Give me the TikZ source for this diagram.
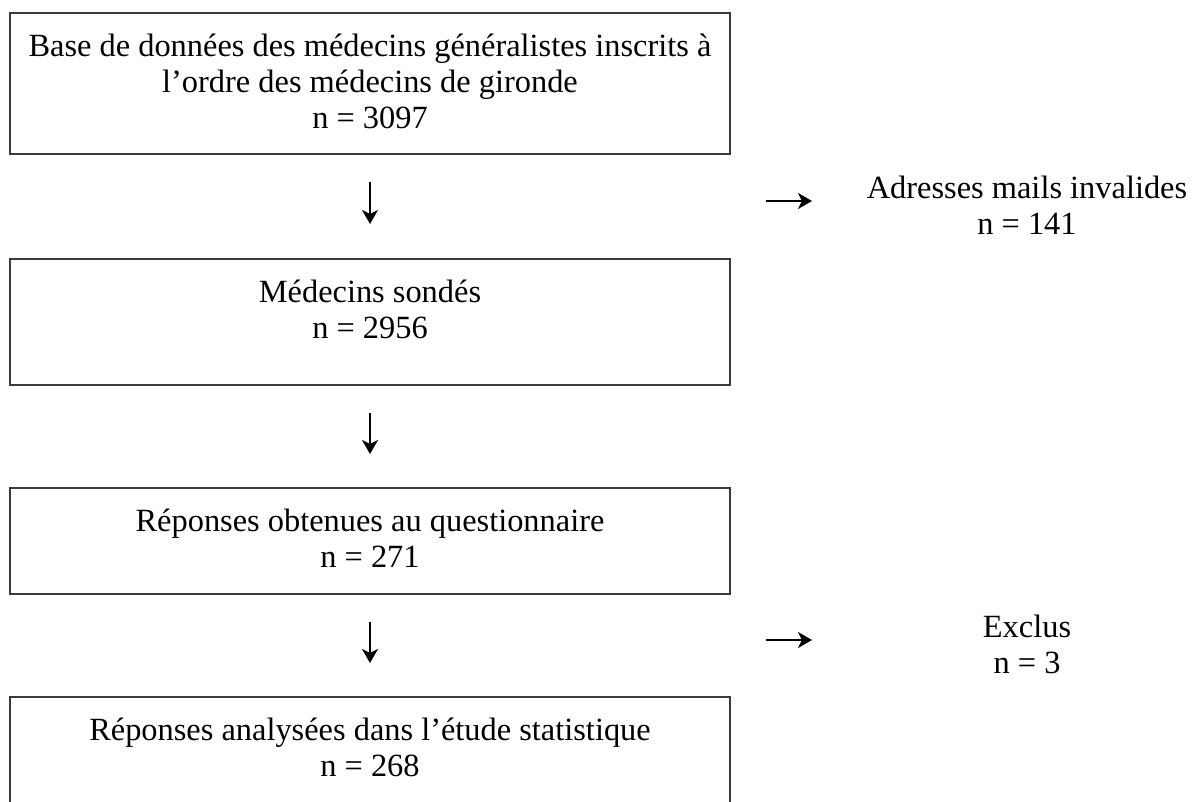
\documentclass[tikz,border=0pt]{standalone}
\usepackage{fontspec}
\setmainfont{Liberation Serif}
\usetikzlibrary{arrows.meta,positioning}
\definecolor{CadreGris}{HTML}{3A3A3A}

\begin{document}
\begin{tikzpicture}[x=1pt,y=-1pt,
  cadre/.style={draw=CadreGris,line width=1.6pt,minimum width=720pt,anchor=north,inner sep=0pt},
  texte/.style={align=center,anchor=north,inner sep=0pt,font=\fontsize{32.4}{36}\selectfont},
  fleche/.style={line width=2.2pt,-{Stealth[length=14pt,width=16pt,inset=4pt]}}]
  \useasboundingbox (0,0) rectangle (1196,802);
  % cadres de gauche
  \foreach \nom/\haut/\h in {base/12/141,sondes/258/126,reponses/487/106,analyses/696/140}
    \node[cadre,minimum height=\h pt] (\nom) at (370,\haut) {};
  \node[texte] (base-txt) at ([yshift=-22pt]base.north)
    {Base de données des médecins généralistes inscrits à\\l’ordre des médecins de gironde\\n = 3097};
  \node[texte] (sondes-txt) at ([yshift=-22pt]sondes.north) {Médecins sondés\\n = 2956};
  \node[texte] (reponses-txt) at ([yshift=-22pt]reponses.north) {Réponses obtenues au questionnaire\\n = 271};
  \node[texte] (analyses-txt) at ([yshift=-22pt]analyses.north) {Réponses analysées dans l’étude statistique\\n = 268};
  % exclusions
  \node[texte] (invalides) at (1027,176) {Adresses mails invalides\\n = 141};
  \node[texte] (exclus) at (1027,615) {Exclus\\n = 3};
  % fleches
  \foreach \nom/\xa/\ya/\xb/\yb in {b1/370/182/370/224,b2/370/413/370/454,b3/370/622/370/663,
                                    d1/766/201/812/201,d2/766/640/812/640} {
    \coordinate (\nom-a) at (\xa,\ya);
    \coordinate (\nom-b) at (\xb,\yb);
    \draw[fleche] (\nom-a) -- (\nom-b);
  }
\end{tikzpicture}
\end{document}
